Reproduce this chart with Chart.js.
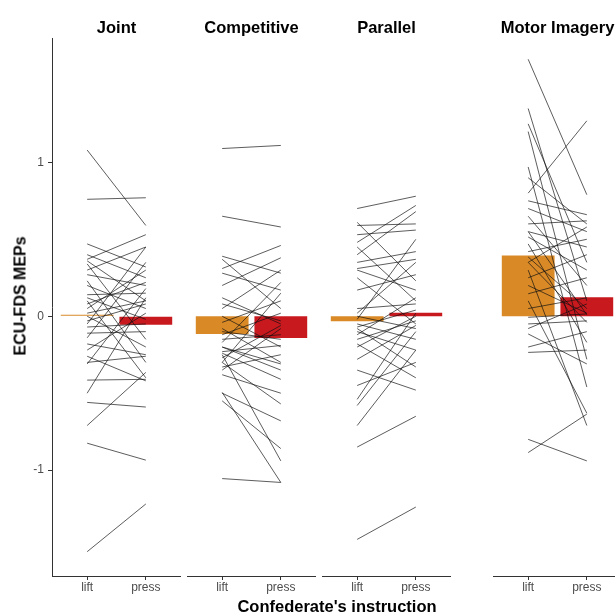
<!DOCTYPE html>
<html>
<head>
<meta charset="utf-8">
<script src="https://cdn.jsdelivr.net/npm/chart.js@4"></script>
<style>
  html, body { margin: 0; padding: 0; width: 615px; height: 613px; overflow: hidden; background: #fff; }
  canvas { position: absolute; top: 0; }
  .lbl { position: absolute; font-family: "Liberation Sans", Arial, sans-serif; font-weight: bold; color: #000; white-space: nowrap; }
  #xTitle { left: 337px; top: 597px; font-size: 16.5px; line-height: 19px; transform: translateX(-50%); }
  #yTitle { left: 20px; top: 296px; font-size: 16px; line-height: 19px; transform: translate(-50%, -50%) rotate(-90deg); }
</style>
</head>
<body>
<canvas id="panel0" width="181" height="613" style="left:0px"></canvas>
<canvas id="panel1" width="129" height="613" style="left:187px"></canvas>
<canvas id="panel2" width="129" height="613" style="left:322px"></canvas>
<canvas id="panel3" width="129" height="613" style="left:493px"></canvas>
<div class="lbl" id="xTitle">Confederate's instruction</div>
<div class="lbl" id="yTitle">ECU-FDS MEPs</div>
<script>
// Facets and the two instruction levels
const panels = ['Joint', 'Competitive', 'Parallel', 'Motor Imagery'];
const categories = ['lift', 'press'];
const yTicks = [-1, 0, 1];

// Group means per facet
const meanLift  = [0.01, -0.115, -0.033, 0.395];
const meanPress = [-0.056, -0.141, 0.022, 0.124];

// Individual participants (lift value, press value), paired by index
const jointLift  = [1.08, 0.76, 0.47, 0.37, 0.40, 0.36, 0.30, 0.34, 0.27, 0.20, 0.14, 0.10, 0.05, 0.02, 0.00, -0.03, -0.07, -0.11, -0.14, -0.18, -0.22, -0.26, -0.30, -0.31, -0.415, -0.50, -0.56, -0.71, -0.825, -1.53, 0.23, -0.05, 0.12, 0.08];
const jointPress = [0.59, 0.77, 0.32, 0.53, 0.25, 0.10, 0.45, -0.15, 0.20, 0.05, 0.15, -0.40, 0.30, 0.10, -0.20, 0.08, -0.05, -0.10, 0.35, -0.25, 0.02, -0.42, -0.26, 0.18, -0.41, 0.12, -0.59, -0.365, -0.935, -1.22, -0.30, 0.45, -0.02, 0.22];

const compLift  = [1.09, 0.65, 0.39, 0.37, 0.31, 0.28, 0.20, 0.12, 0.05, 0.00, -0.04, -0.08, -0.12, -0.15, -0.17, -0.20, -0.23, -0.24, -0.27, -0.30, -0.33, -0.35, -0.38, -0.495, -0.50, -0.55, -0.25, -1.055, -0.10, 0.08, -0.30, -0.20];
const compPress = [1.11, 0.58, 0.28, 0.05, 0.46, 0.17, 0.38, -0.05, 0.30, -0.20, 0.10, -0.30, 0.02, -0.12, 0.22, -0.35, -0.19, -0.41, -0.06, -0.57, -0.25, -0.08, -0.50, -1.08, -0.68, -0.86, -0.94, -1.08, -0.15, -0.03, 0.15, -0.31];

const paraLift  = [0.70, 0.61, 0.59, 0.53, 0.48, 0.45, 0.40, 0.35, 0.31, 0.30, 0.25, 0.17, 0.05, 0.00, -0.02, -0.05, -0.07, -0.10, -0.12, -0.15, -0.18, -0.20, -0.28, -0.35, -0.45, -0.54, -0.58, -0.71, -0.85, -1.45, -0.08, 0.02];
const paraPress = [0.78, 0.23, 0.60, 0.56, 0.72, 0.10, 0.68, 0.42, 0.37, 0.17, -0.05, 0.27, 0.08, -0.08, 0.50, -0.15, 0.04, -0.22, 0.12, -0.03, -0.40, 0.00, -0.06, -0.48, -0.30, 0.02, -0.10, -0.22, -0.65, -1.24, -0.33, 0.35];

const motorLift  = [1.67, 1.35, 1.25, 1.20, 0.97, 0.80, 0.75, 0.70, 0.65, 0.60, 0.55, 0.515, 0.47, 0.42, 0.385, 0.35, 0.30, 0.25, 0.20, 0.146, 0.10, -0.007, -0.05, -0.08, -0.115, -0.20, -0.235, -0.80, -0.886, 0.90, 0.35, 0.05, 0.55];
const motorPress = [0.79, 0.10, 0.35, -0.28, -0.46, 1.27, 0.66, 0.55, 0.20, 0.62, 0.45, 0.30, -0.17, 0.50, 0.05, 0.58, -0.71, 0.40, 0.02, 0.25, -0.63, 0.015, -0.03, 0.08, -0.31, -0.10, -0.22, -0.94, -0.636, 0.60, -0.04, 0.12, 0.01];

const liftSets  = [jointLift, compLift, paraLift, motorLift];
const pressSets = [jointPress, compPress, paraPress, motorPress];

const FONT = '"Liberation Sans", Arial, sans-serif';
const ORANGE = '#d98a27';
const RED = '#c8191f';
const AXIS = '#333333';
const Y_MIN = -1.688, Y_MAX = 1.803;

function buildPanel(idx, showY) {
  const lift = liftSets[idx], press = pressSets[idx];
  const lines = lift.map((l, i) => ({
    type: 'line',
    data: [{ x: 0, y: l }, { x: 1, y: press[i] }],
    borderColor: 'rgba(15,15,15,0.85)',
    borderWidth: 0.8,
    pointRadius: 0,
    fill: false,
    order: 0
  }));
  const bars = {
    type: 'bar',
    data: [{ x: 0, y: meanLift[idx] }, { x: 1, y: meanPress[idx] }],
    backgroundColor: [ORANGE, RED],
    borderWidth: 0,
    barPercentage: 0.9,
    categoryPercentage: 1,
    order: 1
  };
  const yScale = {
    type: 'linear',
    display: showY,
    min: Y_MIN,
    max: Y_MAX,
    afterBuildTicks: s => { s.ticks = yTicks.map(v => ({ value: v })); },
    grid: { display: true, drawOnChartArea: false, drawTicks: true, tickLength: 4, color: AXIS },
    border: { display: true, color: AXIS, width: 1 },
    ticks: {
      color: '#4d4d4d',
      font: { family: FONT, size: 12 },
      padding: 4
    }
  };
  if (showY) yScale.afterFit = s => { s.width = 52; };

  new Chart(document.getElementById('panel' + idx), {
    type: 'bar',
    data: { datasets: [bars, ...lines] },
    options: {
      responsive: false,
      animation: false,
      events: [],
      layout: { padding: 0 },
      plugins: {
        legend: { display: false },
        tooltip: { enabled: false },
        title: {
          display: true,
          text: panels[idx],
          fullSize: false,
          color: '#000',
          font: { family: FONT, size: 16.5, weight: 'bold', lineHeight: 1.2 },
          padding: { top: 19, bottom: 0 }
        }
      },
      scales: {
        x: {
          type: 'linear',
          min: -0.6,
          max: 1.6,
          offset: false,
          afterBuildTicks: s => { s.ticks = [0, 1].map(v => ({ value: v })); },
          afterFit: s => { s.height = 37; },
          grid: { display: true, drawOnChartArea: false, drawTicks: true, tickLength: 4, color: AXIS, offset: false },
          border: { display: true, color: AXIS, width: 1 },
          ticks: {
            callback: v => categories[v],
            color: '#4d4d4d',
            font: { family: FONT, size: 12 },
            padding: 0,
            autoSkip: false,
            maxRotation: 0
          }
        },
        y: yScale
      }
    }
  });
}

buildPanel(0, true);
buildPanel(1, false);
buildPanel(2, false);
buildPanel(3, false);
</script>
</body>
</html>
